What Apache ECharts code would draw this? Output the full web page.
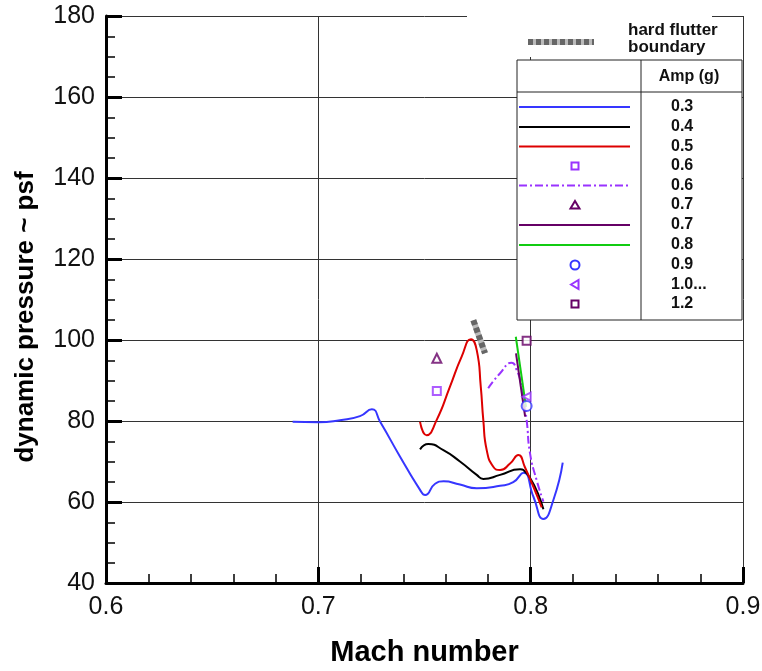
<!DOCTYPE html>
<html>
<head>
<meta charset="utf-8">
<script src="https://cdn.jsdelivr.net/npm/echarts@6/dist/echarts.min.js"></script>
<style>html,body{margin:0;padding:0;background:#fff;}#c{width:762px;height:671px;}</style>
</head>
<body>
<div id="c"></div>
<script>
// ---- data (Mach number, dynamic pressure psf) ----
const xTicks = [0.6, 0.7, 0.8, 0.9];
const yTicks = [40, 60, 80, 100, 120, 140, 160, 180];
const amp03 = [[0.6879,79.8],[0.7,79.7],[0.7102,80.2],[0.7196,81.2],[0.7252,82.9],[0.7291,79.8],[0.7385,71.2],[0.7479,63.0],[0.7503,61.7],[0.755,64.5],[0.759,65.1],[0.7667,64.3],[0.7746,63.4],[0.7856,64.0],[0.7918,64.9],[0.7966,67.2],[0.8013,61.3],[0.806,55.8],[0.8107,60.5],[0.8151,69.7]];
const amp04 = [[0.7479,73.0],[0.7518,74.3],[0.7589,72.8],[0.7667,70.0],[0.7746,66.7],[0.7777,65.7],[0.7856,66.7],[0.795,68.1],[0.7966,67.9],[0.806,58.2]];
const amp05 = [[0.7479,79.8],[0.751,76.5],[0.7557,80.2],[0.762,88.5],[0.7675,95.9],[0.7719,100.2],[0.7746,97.5],[0.7765,88.5],[0.7777,80.2],[0.7793,72.8],[0.7824,68.7],[0.7856,67.9],[0.7903,69.5],[0.7942,71.6],[0.7972,68.7],[0.8052,58.7]];
const amp06pts = [[0.7558,87.4]];
const amp06line = [[0.78,88.1],[0.7856,91.8],[0.791,94.4],[0.7934,92.6],[0.7958,88.5],[0.7981,80.2],[0.7997,72.0],[0.8028,65.4],[0.806,60.1]];
const amp07pts = [[0.7558,95.5]];
const amp07line = [[0.7931,96.7],[0.7974,81.1]];
const amp08line = [[0.793,100.8],[0.7978,83.5]];
const amp09pts = [[0.7981,83.7]];
const amp10pts = [[0.7981,86.0]];
const amp12pts = [[0.7981,99.8]];
const flutterBoundary = [[0.773,104.9],[0.7785,96.7]];
const legendLabels = ['0.3','0.4','0.5','0.6','0.6','0.7','0.7','0.8','0.9','1.0...','1.2'];

const FONT = "'Liberation Sans', Arial, sans-serif";
const BLUE = '#3636ff', RED = '#dd0000', VIOLET = '#9933ff', DPURP = '#660066', GREEN = '#11cc11';

const chart = echarts.init(document.getElementById('c'));

function lineS(name, data, color, type, w) {
  return { name, type: 'line', data, smooth: 0.55, showSymbol: false, symbol: 'none',
    lineStyle: { color, width: w || 2, type: type || 'solid' }, z: 5 };
}
function ptS(name, data, color, symbol, size, rot) {
  return { name, type: 'scatter', data, symbol, symbolSize: size, symbolRotate: rot || 0,
    itemStyle: { color, borderColor: color, borderWidth: 2 }, z: 6 };
}

// legend (graphic)
const LX0 = 517, LX1 = 742, LY0 = 60, LY1 = 320, COL = 641, HDR = 92;
const rowY = [107, 127, 146.5, 166, 185.5, 205, 225, 245, 265, 284.5, 304];
const g = [];
g.push({ type: 'rect', shape: { x: 467, y: 0, width: 245, height: 57 }, style: { fill: '#fff' }, z: 100 });
g.push({ type: 'rect', shape: { x: LX0, y: LY0, width: LX1 - LX0, height: LY1 - LY0 }, style: { fill: '#fff', stroke: '#222', lineWidth: 1 }, z: 100 });
g.push({ type: 'line', shape: { x1: LX0, y1: HDR, x2: LX1, y2: HDR }, style: { stroke: '#222', lineWidth: 1 }, z: 101 });
g.push({ type: 'line', shape: { x1: COL, y1: LY0, x2: COL, y2: LY1 }, style: { stroke: '#222', lineWidth: 1 }, z: 101 });
g.push({ type: 'text', x: 689, y: 77, style: { text: 'Amp (g)', font: "bold 16px " + FONT, fill: '#111', textAlign: 'center', textVerticalAlign: 'middle' }, z: 101 });
// hard flutter boundary swatch
g.push({ type: 'line', shape: { x1: 528, y1: 42, x2: 594, y2: 42 }, style: { stroke: '#bbb', lineWidth: 6 }, z: 101 });
g.push({ type: 'line', shape: { x1: 528, y1: 42, x2: 594, y2: 42 }, style: { stroke: '#666', lineWidth: 6, lineDash: [5, 3] }, z: 102 });
g.push({ type: 'text', x: 628, y: 22, style: { text: 'hard flutter\nboundary', font: "bold 17px " + FONT, fill: '#111', lineHeight: 17, textAlign: 'left', textVerticalAlign: 'top' }, z: 101 });
legendLabels.forEach((t, i) => {
  g.push({ type: 'text', x: 671, y: rowY[i], style: { text: t, font: "bold 16px " + FONT, fill: '#111', textAlign: 'left', textVerticalAlign: 'middle' }, z: 101 });
});
const lineRow = (i, color, dash) => g.push({ type: 'line', shape: { x1: 519, y1: rowY[i], x2: 630, y2: rowY[i] }, style: { stroke: color, lineWidth: 2, lineDash: dash || null }, z: 101 });
lineRow(0, BLUE); lineRow(1, '#000'); lineRow(2, RED); lineRow(4, VIOLET, [8, 3, 2, 3]); lineRow(6, DPURP); lineRow(7, GREEN);
const SX = 575;
g.push({ type: 'rect', shape: { x: SX - 3.5, y: rowY[3] - 3.5, width: 7, height: 7 }, style: { fill: '#fff', stroke: VIOLET, lineWidth: 2 }, z: 101 });
g.push({ type: 'polygon', shape: { points: [[SX, rowY[5] - 4], [SX + 4.5, rowY[5] + 3.5], [SX - 4.5, rowY[5] + 3.5]] }, style: { fill: '#fff', stroke: DPURP, lineWidth: 2 }, z: 101 });
g.push({ type: 'circle', shape: { cx: SX, cy: rowY[8], r: 4.5 }, style: { fill: '#fff', stroke: BLUE, lineWidth: 2 }, z: 101 });
g.push({ type: 'polygon', shape: { points: [[SX - 4, rowY[9]], [SX + 3.5, rowY[9] - 4.5], [SX + 3.5, rowY[9] + 4.5]] }, style: { fill: '#fff', stroke: VIOLET, lineWidth: 2 }, z: 101 });
g.push({ type: 'rect', shape: { x: SX - 3.5, y: rowY[10] - 3.5, width: 7, height: 7 }, style: { fill: '#fff', stroke: DPURP, lineWidth: 2 }, z: 101 });
// y axis title
g.push({ type: 'text', x: 26, y: 317, rotation: Math.PI / 2, style: { text: 'dynamic pressure ~ psf', font: "bold 26px " + FONT, fill: '#000', textAlign: 'center', textVerticalAlign: 'middle' }, z: 101 });

const option = {
  animation: false,
  backgroundColor: '#fff',
  grid: { left: 106, right: 19, top: 16, bottom: 88, containLabel: false, outerBoundsMode: 'none' },
  xAxis: {
    type: 'value', min: xTicks[0], max: xTicks[xTicks.length - 1], interval: 0.1,
    name: 'Mach number', nameLocation: 'middle', nameGap: 55,
    nameTextStyle: { fontFamily: FONT, fontWeight: 'bold', fontSize: 29, color: '#000' },
    axisLine: { show: true, onZero: false, lineStyle: { color: '#000', width: 3 } },
    axisTick: { show: true, inside: true, length: 16, lineStyle: { color: '#000', width: 3 } },
    minorTick: { show: true, splitNumber: 5, length: 9, lineStyle: { color: '#000', width: 1.5 } },
    axisLabel: { fontFamily: FONT, fontSize: 25, color: '#111', margin: 12, formatter: v => v.toFixed(1) },
    splitLine: { show: true, lineStyle: { color: '#333', width: 1 } }
  },
  yAxis: {
    type: 'value', min: yTicks[0], max: yTicks[yTicks.length - 1], interval: 20,
    axisLine: { show: true, onZero: false, lineStyle: { color: '#000', width: 3 } },
    axisTick: { show: true, inside: true, length: 16, lineStyle: { color: '#000', width: 3 } },
    minorTick: { show: true, splitNumber: 4, length: 9, lineStyle: { color: '#000', width: 1.5 } },
    axisLabel: { fontFamily: FONT, fontSize: 25, color: '#111', margin: 11 },
    splitLine: { show: true, lineStyle: { color: '#333', width: 1 } }
  },
  graphic: { elements: g },
  series: [
    lineS('0.3', amp03, BLUE),
    lineS('0.4', amp04, '#000'),
    lineS('0.5', amp05, RED),
    lineS('0.6 line', amp06line, VIOLET, [8, 3, 2, 3]),
    lineS('0.7 line', amp07line, DPURP),
    lineS('0.8', amp08line, GREEN),
    { name: 'hard flutter boundary', type: 'line', data: flutterBoundary, showSymbol: false, symbol: 'none', lineStyle: { color: '#bbb', width: 6 }, z: 4 },
    { name: 'hard flutter boundary dash', type: 'line', data: flutterBoundary, showSymbol: false, symbol: 'none', lineStyle: { color: '#666', width: 6, type: [5, 3] }, z: 4 },
    ptS('0.6 pts', amp06pts, VIOLET, 'emptyRect', 8),
    ptS('0.7 pts', amp07pts, DPURP, 'emptyTriangle', 9),
    ptS('0.9', amp09pts, BLUE, 'emptyCircle', 10),
    ptS('1.0', amp10pts, VIOLET, 'emptyTriangle', 8, 90),
    ptS('1.2', amp12pts, DPURP, 'emptyRect', 8)
  ]
};
chart.setOption(option);
</script>
</body>
</html>
